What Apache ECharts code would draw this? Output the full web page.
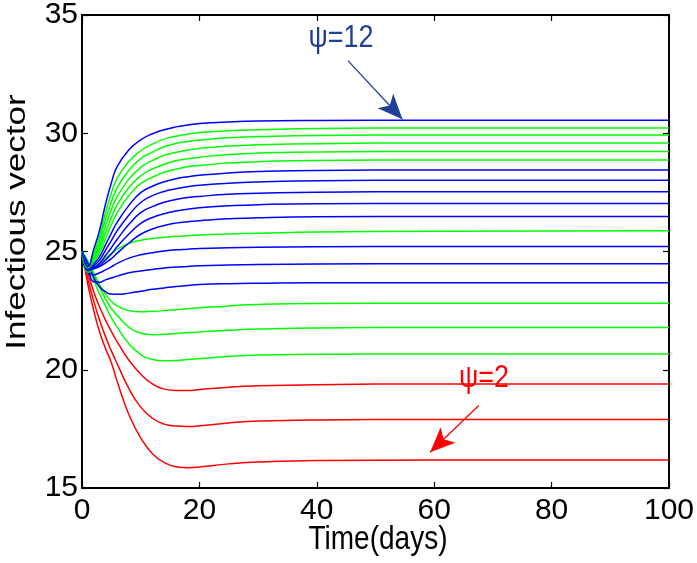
<!DOCTYPE html>
<html>
<head>
<meta charset="utf-8">
<script src="https://cdn.jsdelivr.net/npm/echarts@6/dist/echarts.min.js"></script>
<style>
html,body{margin:0;padding:0;background:#fff;}
#chart{width:697px;height:563px;}
</style>
</head>
<body>
<div id="chart"></div>
<script>
// Time samples (days)
const times = [0,1,2,3,4,5,6,8,10,12,14,16,18,20,25,30,40,60,100];
const xTicks = [0,20,40,60,80,100];
const yTicks = [15,20,25,30,35];

// Infectious vector curves, psi = 12 down to 2 (step 0.5)
const psi12   = [25,24.35,25.10,25.90,27.00,27.90,28.60,29.30,29.72,29.98,30.15,30.27,30.35,30.41,30.48,30.52,30.54,30.55,30.55];
const psi11_5 = [25,24.35,24.94,25.64,26.64,27.46,28.10,28.81,29.26,29.54,29.75,29.87,29.96,30.03,30.11,30.15,30.20,30.22,30.22];
const psi11   = [25,24.35,24.85,25.47,26.36,27.09,27.70,28.43,28.93,29.20,29.43,29.57,29.65,29.71,29.81,29.86,29.91,29.93,29.93];
const psi10_5 = [25,24.33,24.75,25.28,26.07,26.76,27.33,28.06,28.56,28.85,29.07,29.19,29.29,29.36,29.46,29.51,29.56,29.59,29.59];
const psi10   = [25,24.32,24.66,25.11,25.79,26.43,26.97,27.71,28.20,28.49,28.69,28.84,28.92,28.99,29.10,29.16,29.21,29.23,29.23];
const psi9_5  = [25,24.30,24.57,24.94,25.53,26.13,26.63,27.37,27.87,28.14,28.35,28.48,28.58,28.64,28.74,28.80,28.85,28.87,28.87];
const psi9    = [25,24.28,24.49,24.78,25.28,25.78,26.24,26.95,27.49,27.76,27.95,28.08,28.16,28.22,28.32,28.38,28.43,28.45,28.45];
const psi8_5  = [25,24.26,24.41,24.64,25.05,25.46,25.88,26.54,27.07,27.36,27.54,27.65,27.74,27.80,27.89,27.94,27.99,28.01,28.01];
const psi8    = [25,24.24,24.34,24.50,24.83,25.16,25.52,26.15,26.64,26.90,27.08,27.20,27.28,27.33,27.42,27.46,27.51,27.53,27.53];
const psi7_5  = [25,24.22,24.30,24.42,24.64,24.89,25.21,25.74,26.19,26.44,26.60,26.71,26.79,26.85,26.93,26.98,27.02,27.03,27.03];
const psi7    = [25,24.20,24.27,24.36,24.52,24.70,24.93,25.36,25.73,25.95,26.10,26.20,26.26,26.30,26.38,26.43,26.47,26.48,26.48];
const psi6_5  = [25,24.12,24.25,24.50,24.72,24.92,25.10,25.34,25.48,25.55,25.60,25.64,25.67,25.70,25.74,25.77,25.82,25.86,25.88];
const psi6    = [25,24.10,24.02,24.10,24.22,24.35,24.50,24.72,24.86,24.95,25.02,25.07,25.10,25.13,25.16,25.18,25.20,25.21,25.21];
const psi5_5  = [25,24.30,23.72,23.70,23.80,23.88,23.96,24.10,24.18,24.24,24.30,24.34,24.37,24.40,24.43,24.45,24.47,24.48,24.48];
const psi5    = [25,24.50,23.90,23.50,23.30,23.20,23.19,23.24,23.32,23.40,23.46,23.52,23.56,23.60,23.64,23.66,23.68,23.68,23.68];
const psi4_5  = [25,24.60,24.10,23.60,23.20,22.90,22.70,22.50,22.45,22.47,22.50,22.54,22.58,22.62,22.70,22.76,22.80,22.81,22.81];
const psi4    = [25,24.50,24.00,23.50,23.00,22.60,22.30,21.80,21.55,21.48,21.50,21.53,21.57,21.60,21.67,21.72,21.77,21.79,21.79];
const psi3_5  = [25,24.40,23.80,23.20,22.70,22.20,21.80,21.10,20.65,20.43,20.38,20.39,20.43,20.47,20.56,20.62,20.66,20.67,20.67];
const psi3    = [25,24.10,23.30,22.65,22.10,21.62,21.18,20.40,19.82,19.40,19.18,19.12,19.12,19.16,19.26,19.32,19.37,19.40,19.40];
const psi2_5  = [25,23.85,22.90,22.10,21.40,20.80,20.25,19.20,18.42,17.95,17.70,17.62,17.60,17.63,17.75,17.83,17.88,17.90,17.90];
const psi2    = [25,23.60,22.50,21.60,20.90,20.30,19.50,18.10,17.12,16.45,16.08,15.90,15.86,15.89,16.02,16.10,16.16,16.18,16.18];

const curves = [psi12,psi11_5,psi11,psi10_5,psi10,psi9_5,psi9,psi8_5,psi8,psi7_5,psi7,psi6_5,psi6,psi5_5,psi5,psi4_5,psi4,psi3_5,psi3,psi2_5,psi2];
const curveColors = ['b','g','g','g','g','g','b','b','b','b','b','g','b','b','b','g','g','g','r','r','r'];

// Annotation anchors in data units
const arrow12 = [[45.3,33.07],[54.6,30.59]];
const arrow2  = [[67.6,18.49],[59.3,16.51]];

const colorMap = {b:'#0000ff', g:'#00ff00', r:'#ff0000'};
const NAVY = '#1f3f98';
const FONT = '"Liberation Sans", Arial, sans-serif';

const chart = echarts.init(document.getElementById('chart'), null, {renderer:'canvas'});

const series = curves.map((vals, i) => {
  const s = {
    type:'line',
    data: times.map((t,k)=>[t, vals[k]]),
    showSymbol:false,
    smooth:0.5,
    lineStyle:{color:colorMap[curveColors[i]], width:1.5},
    itemStyle:{color:colorMap[curveColors[i]]},
    z: 2 + (curves.length - i) * 0.01,
    silent:true,
    animation:false
  };
  if (i === 0) {
    s.markLine = {
      silent:true, animation:false,
      symbol:['none','arrow'], symbolSize:[16,25],
      lineStyle:{color:NAVY, width:1.3, type:'solid'},
      label:{show:false},
      data:[[{coord:arrow12[0]},{coord:arrow12[1]}]]
    };
  }
  if (i === curves.length - 1) {
    s.markLine = {
      silent:true, animation:false,
      symbol:['none','arrow'], symbolSize:[16,25],
      lineStyle:{color:'#ff0000', width:1.3, type:'solid'},
      label:{show:false},
      data:[[{coord:arrow2[0]},{coord:arrow2[1]}]]
    };
  }
  return s;
});

const axisCommon = {
  type:'value',
  axisLine:{show:true, onZero:false, lineStyle:{color:'#000', width:2}},
  axisTick:{show:true, inside:true, length:6, lineStyle:{color:'#000', width:1.2}},
  splitLine:{show:false}
};

chart.setOption({
  animation:false,
  backgroundColor:'#fff',
  grid:{left:82, right:23, top:12, bottom:75, containLabel:false},
  xAxis:[
    Object.assign({}, axisCommon, {min:0, max:100, interval:20, position:'bottom',
      axisLabel:{show:true, color:'#000', fontSize:30, fontFamily:FONT, margin:8,
        formatter:v=> xTicks.includes(v) ? String(v) : ''}}),
    Object.assign({}, axisCommon, {min:0, max:100, interval:20, position:'top', axisLabel:{show:false}})
  ],
  yAxis:[
    Object.assign({}, axisCommon, {min:15, max:35, interval:5, position:'left',
      axisLabel:{show:true, color:'#000', fontSize:30, fontFamily:FONT, margin:4,
        formatter:v=> yTicks.includes(v) ? String(v) : ''}}),
    Object.assign({}, axisCommon, {min:15, max:35, interval:5, position:'right', axisLabel:{show:false}})
  ],
  series: series,
  graphic:[
    {type:'text', x:378, y:540, scaleY:1.2, silent:true,
     style:{text:'Time(days)', fill:'#000', font:'28px '+FONT, align:'center', verticalAlign:'middle'}},
    {type:'text', rotation:Math.PI/2, x:18, y:222, scaleX:1.3, silent:true,
     style:{text:'Infectious vector', fill:'#000', font:'27px '+FONT, align:'center', verticalAlign:'middle'}},
    {type:'text', x:341, y:38, scaleY:1.15, silent:true,
     style:{text:'ψ=12', fill:NAVY, font:'27px '+FONT, align:'center', verticalAlign:'middle'}},
    {type:'text', x:484, y:378, scaleY:1.15, silent:true,
     style:{text:'ψ=2', fill:'#ff0000', font:'27px '+FONT, align:'center', verticalAlign:'middle'}}
  ]
});
</script>
</body>
</html>
